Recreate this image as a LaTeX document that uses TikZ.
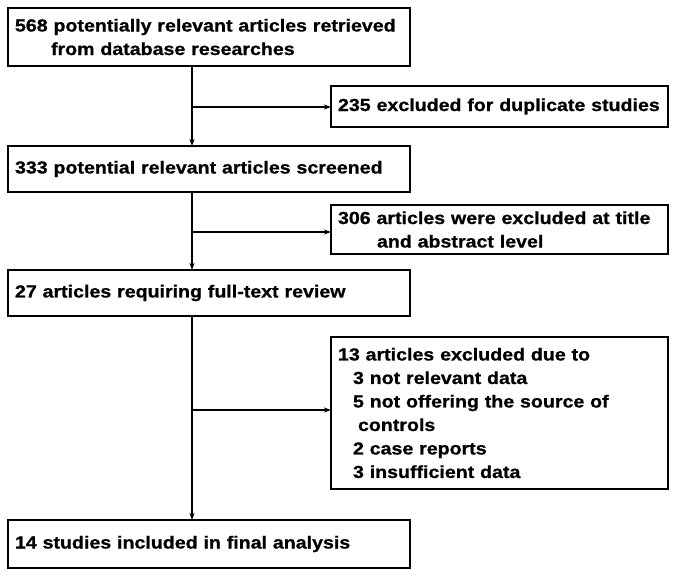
\documentclass[tikz,border=0pt]{standalone}
\usepackage{fontspec}
\setmainfont{Liberation Sans}[FakeStretch=1.12,FakeBold=0.8]
\usetikzlibrary{arrows.meta}
\begin{document}
\begin{tikzpicture}[x=1pt,y=-1pt,
  box/.style={draw, line width=1.6pt, anchor=north west, align=left,
    inner xsep=7pt, inner ysep=0pt, outer sep=0pt,
    font=\fontsize{17.5}{23.5}\selectfont\bfseries},
  flow/.style={line width=1.4pt, -{Stealth[length=7pt,width=5pt]}}]
\useasboundingbox (0,0) rectangle (675,576);
\fill[white] (0,0) rectangle (675,576);
\node[box, minimum width=402pt, minimum height=58pt, text width=388pt] (b1) at (8,8)
  {568 potentially relevant articles retrieved\\\hspace*{36pt}from database researches};
\node[box, minimum width=337pt, minimum height=41pt, text width=323pt] (b2) at (331,86)
  {235 excluded for duplicate studies};
\node[box, minimum width=402pt, minimum height=46pt, text width=388pt] (b3) at (8,146)
  {333 potential relevant articles screened};
\node[box, minimum width=337pt, minimum height=49pt, text width=323pt] (b4) at (331,205)
  {306 articles were excluded at title\\\hspace*{39pt}and abstract level};
\node[box, minimum width=402pt, minimum height=46pt, text width=388pt] (b5) at (8,270)
  {27 articles requiring full-text review};
\node[box, minimum width=337pt, minimum height=152pt, text width=323pt] (b6) at (331,337)
  {13 articles excluded due to\\
   \hspace*{15pt}3 not relevant data\\
   \hspace*{15pt}5 not offering the source of\\
   \hspace*{20pt}controls\\
   \hspace*{15pt}2 case reports\\
   \hspace*{15pt}3 insufficient data};
\node[box, minimum width=402pt, minimum height=48pt, text width=388pt] (b7) at (8,520)
  {14 studies included in final analysis};
\coordinate (j1) at (192,107);
\coordinate (j2) at (192,232);
\coordinate (j3) at (192,410);
\draw[flow] (b1.south -| j1) -- (j1 |- b3.north);
\draw[flow] (b3.south -| j1) -- (j1 |- b5.north);
\draw[flow] (b5.south -| j1) -- (j1 |- b7.north);
\draw[flow] (j1) -- (j1 -| b2.west);
\draw[flow] (j2) -- (j2 -| b4.west);
\draw[flow] (j3) -- (j3 -| b6.west);
\end{tikzpicture}
\end{document}
